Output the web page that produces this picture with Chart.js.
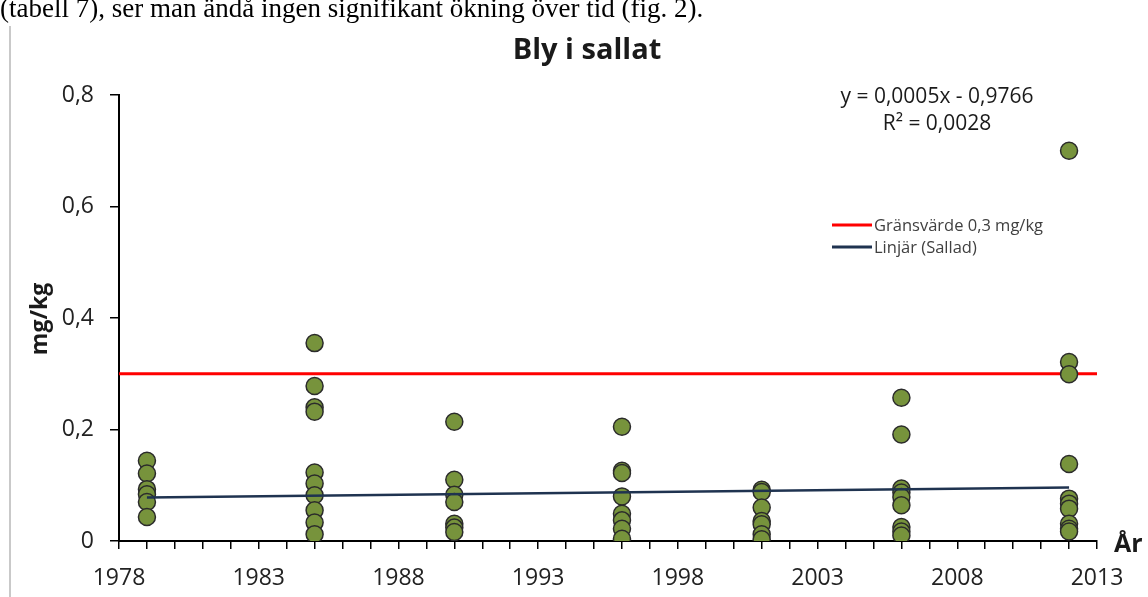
<!DOCTYPE html>
<html lang="sv">
<head>
<meta charset="utf-8">
<title>Bly i sallat</title>
<script src="https://cdn.jsdelivr.net/npm/chart.js@4.4.1/dist/chart.umd.min.js"></script>
<style>
  html, body { margin: 0; padding: 0; background: #ffffff; }
  #wrap { position: relative; width: 1148px; height: 597px; overflow: hidden; }
  canvas { display: block; }
</style>
</head>
<body>
<div id="wrap"><canvas id="chart" width="1148" height="597"></canvas></div>
<script>
// Lead content in lettuce samples (mg/kg), grouped by sampling year
const sampleYears = [1979, 1985, 1990, 1996, 2001, 2006, 2012];
const lead1979 = [0.144, 0.121, 0.093, 0.084, 0.070, 0.043];
const lead1985 = [0.355, 0.278, 0.240, 0.232, 0.123, 0.103, 0.082, 0.055, 0.033, 0.012];
const lead1990 = [0.214, 0.110, 0.083, 0.070, 0.031, 0.024, 0.016];
const lead1996 = [0.205, 0.126, 0.122, 0.080, 0.049, 0.037, 0.022, 0.004];
const lead2001 = [0.092, 0.088, 0.060, 0.036, 0.030, 0.012, 0.003];
const lead2006 = [0.257, 0.191, 0.094, 0.087, 0.079, 0.064, 0.025, 0.017, 0.010];
const lead2012 = [0.700, 0.321, 0.299, 0.138, 0.076, 0.067, 0.058, 0.031, 0.022, 0.017];

// Limit value and linear trend line end points
const limitValue = 0.3;
const limitYears = [1978, 2013];
const trendYears = [1979, 2012];
const trendValues = [0.078, 0.096];

// Axis ranges and labels
const xRange = [1978, 2013];
const xLabelStep = 5;
const yRange = [0, 0.8];
const yStep = 0.2;

const titleText = 'Bly i sallat';
const yAxisTitle = 'mg/kg';
const xAxisTitle = 'År';
const equationLines = ['y = 0,0005x - 0,9766', 'R² = 0,0028'];
const legendLabels = ['Gränsvärde 0,3 mg/kg', 'Linjär (Sallad)'];
const bodyText = '(tabell 7), ser man ändå ingen signifikant ökning över tid (fig. 2).';

const leadByYear = [lead1979, lead1985, lead1990, lead1996, lead2001, lead2006, lead2012];
const samplePoints = [];
sampleYears.forEach((yr, i) => leadByYear[i].forEach(v => samplePoints.push({ x: yr, y: v })));

const FONT = '"Open Sans", "DejaVu Sans", sans-serif';
const LIMIT_COLOR = '#ff0000';
const TREND_COLOR = '#1f3350';

// Page text, axis titles, regression text and legend drawn around the plot
const decorations = {
  id: 'decorations',
  beforeDraw(chart) {
    const ctx = chart.ctx;
    ctx.save();
    ctx.strokeStyle = '#c9c9c9';
    ctx.lineWidth = 2;
    ctx.beginPath();
    ctx.moveTo(10, 26);
    ctx.lineTo(10, 597);
    ctx.stroke();
    ctx.fillStyle = '#000';
    ctx.font = '27px "Liberation Serif", "Times New Roman", serif';
    ctx.textBaseline = 'alphabetic';
    ctx.textAlign = 'left';
    ctx.fillText(bodyText, 0, 17);
    ctx.restore();
  },
  afterDraw(chart) {
    const ctx = chart.ctx;
    ctx.save();
    ctx.fillStyle = '#1a1a1a';
    ctx.textAlign = 'center';
    ctx.textBaseline = 'alphabetic';
    ctx.font = 'bold 29px ' + FONT;
    ctx.fillText(titleText, 587, 59);

    ctx.font = '21px ' + FONT;
    ctx.fillStyle = '#1a1a1a';
    ctx.fillText(equationLines[0], 937, 103);
    ctx.fillText(equationLines[1], 937, 130);

    // legend
    const legendColors = [LIMIT_COLOR, TREND_COLOR];
    const legendY = [225, 247];
    ctx.font = '16.5px ' + FONT;
    ctx.textAlign = 'left';
    ctx.textBaseline = 'middle';
    legendLabels.forEach((lab, i) => {
      ctx.strokeStyle = legendColors[i];
      ctx.lineWidth = 3;
      ctx.beginPath();
      ctx.moveTo(832, legendY[i]);
      ctx.lineTo(872, legendY[i]);
      ctx.stroke();
      ctx.fillStyle = '#404040';
      ctx.fillText(lab, 874, legendY[i] + 1);
    });

    // axis titles
    ctx.fillStyle = '#1a1a1a';
    ctx.font = 'bold 25px ' + FONT;
    ctx.textAlign = 'left';
    ctx.textBaseline = 'alphabetic';
    ctx.fillText(xAxisTitle, 1114, 552);

    ctx.save();
    ctx.translate(40, 319);
    ctx.rotate(-Math.PI / 2);
    ctx.font = 'bold 23px ' + FONT;
    ctx.textAlign = 'center';
    ctx.textBaseline = 'middle';
    ctx.fillText(yAxisTitle, 0, 0);
    ctx.restore();
    ctx.restore();
  }
};

new Chart(document.getElementById('chart'), {
  type: 'scatter',
  data: {
    datasets: [
      {
        label: 'Sallad',
        data: samplePoints,
        backgroundColor: '#77933c',
        borderColor: '#2b2b2b',
        borderWidth: 1.5,
        pointRadius: 8.5,
        order: 2
      },
      {
        label: legendLabels[0],
        data: limitYears.map(x => ({ x, y: limitValue })),
        showLine: true,
        borderColor: LIMIT_COLOR,
        borderWidth: 3,
        pointRadius: 0,
        order: 3
      },
      {
        label: legendLabels[1],
        data: trendYears.map((x, i) => ({ x, y: trendValues[i] })),
        showLine: true,
        borderColor: TREND_COLOR,
        borderWidth: 2.5,
        pointRadius: 0,
        order: 1
      }
    ]
  },
  options: {
    responsive: false,
    devicePixelRatio: 1,
    animation: false,
    events: [],
    layout: { padding: { top: 95, right: 51, left: 0, bottom: 0 } },
    plugins: {
      legend: { display: false },
      title: { display: false },
      tooltip: { enabled: false }
    },
    scales: {
      x: {
        type: 'linear',
        min: xRange[0],
        max: xRange[1],
        afterFit(scale) { scale.height = 56; },
        border: { display: true, color: '#000', width: 2 },
        grid: { drawOnChartArea: false, drawTicks: true, tickLength: 8, color: '#000', lineWidth: 1.5 },
        ticks: {
          stepSize: 1,
          autoSkip: false,
          maxRotation: 0,
          padding: 16,
          color: '#222222',
          font: { family: FONT, size: 23 },
          callback: v => ((v - xRange[0]) % xLabelStep === 0 ? String(v) : '')
        }
      },
      y: {
        min: yRange[0],
        max: yRange[1],
        afterFit(scale) { scale.width = 119; },
        border: { display: true, color: '#000', width: 2 },
        grid: { drawOnChartArea: false, drawTicks: true, tickLength: 9, color: '#000', lineWidth: 1.5 },
        ticks: {
          stepSize: yStep,
          padding: 16,
          color: '#222222',
          font: { family: FONT, size: 23 },
          callback: v => (v === 0 ? '0' : v.toFixed(1).replace('.', ','))
        }
      }
    }
  },
  plugins: [decorations]
});
</script>
</body>
</html>
